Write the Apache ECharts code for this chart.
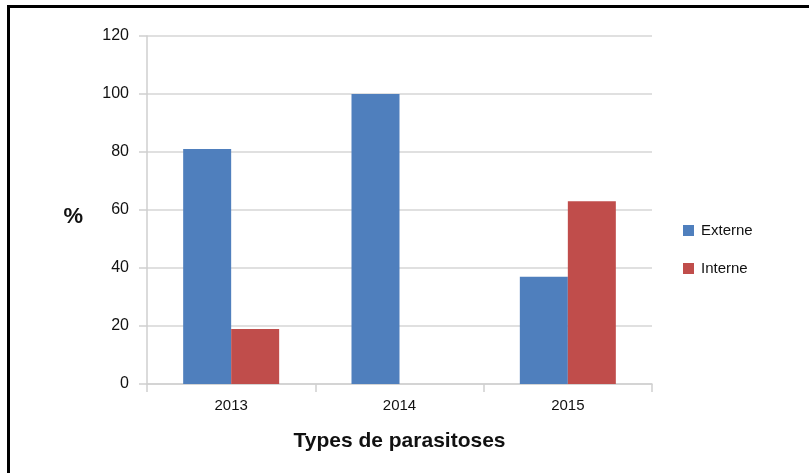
<!DOCTYPE html>
<html>
<head>
<meta charset="utf-8">
<script src="https://cdn.jsdelivr.net/npm/echarts@6/dist/echarts.min.js"></script>
<style>
  html, body { margin: 0; padding: 0; background: #fff; }
  #chart { width: 809px; height: 473px; }
</style>
</head>
<body>
<div id="chart"></div>
<script>
// Share (%) of external vs internal parasitoses per year
const years = ['2013', '2014', '2015'];
const externe = [81, 100, 37];
const interne = [19, 0, 63];
const yTicks = { min: 0, max: 120, step: 20 };

const FONT = '"Liberation Sans", Arial, Helvetica, sans-serif';
const chart = echarts.init(document.getElementById('chart'), null, { renderer: 'canvas' });

chart.setOption({
  animation: false,
  backgroundColor: '#ffffff',
  textStyle: { fontFamily: FONT },
  graphic: [{
    // page frame (top and left edges)
    type: 'rect',
    shape: { x: 8.5, y: 6.5, width: 820, height: 480 },
    style: { fill: 'none', stroke: '#000', lineWidth: 3 },
    silent: true
  }],
  grid: { left: 147, right: 157, top: 36, bottom: 89, containLabel: false },
  legend: {
    orient: 'vertical',
    left: 683,
    top: 223,
    padding: 0,
    itemWidth: 11,
    itemHeight: 11,
    itemGap: 23,
    icon: 'rect',
    textStyle: { fontFamily: FONT, fontSize: 15, color: '#111', padding: [0, 0, 0, 2] },
    data: ['Externe', 'Interne']
  },
  xAxis: {
    type: 'category',
    data: years,
    name: 'Types de parasitoses',
    nameLocation: 'middle',
    nameGap: 47,
    nameTextStyle: { fontFamily: FONT, fontSize: 21, fontWeight: 'bold', color: '#111' },
    axisLine: { show: true, lineStyle: { color: '#cfcfcf', width: 1.5 } },
    axisTick: { show: true, length: 8, alignWithLabel: false, lineStyle: { color: '#cfcfcf', width: 1.5 } },
    axisLabel: { margin: 14, fontFamily: FONT, fontSize: 15, color: '#111' },
    splitLine: { show: false }
  },
  yAxis: {
    type: 'value',
    min: yTicks.min,
    max: yTicks.max,
    interval: yTicks.step,
    name: '%',
    nameLocation: 'middle',
    nameRotate: 0,
    nameGap: 64,
    nameTextStyle: {
      fontFamily: FONT, fontSize: 22, fontWeight: 'bold', color: '#111',
      verticalAlign: 'top', lineHeight: 14
    },
    axisLine: { show: true, lineStyle: { color: '#cfcfcf', width: 1.5 } },
    axisTick: { show: true, length: 8, lineStyle: { color: '#cfcfcf', width: 1.5 } },
    axisLabel: { margin: 18, fontFamily: FONT, fontSize: 16, color: '#111' },
    splitLine: { show: true, lineStyle: { color: '#d6d6d6', width: 1.5 } }
  },
  series: [
    {
      name: 'Externe',
      type: 'bar',
      data: externe,
      barWidth: 48,
      barGap: '0%',
      itemStyle: { color: '#4f7fbd' }
    },
    {
      name: 'Interne',
      type: 'bar',
      data: interne,
      barWidth: 48,
      barGap: '0%',
      itemStyle: { color: '#c04d4b' }
    }
  ]
});
</script>
</body>
</html>
